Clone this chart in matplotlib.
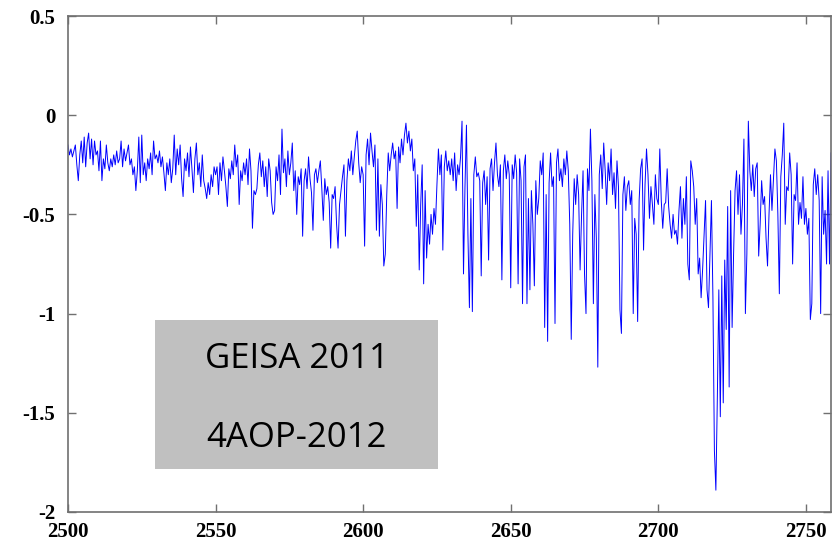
import numpy as np
import matplotlib
matplotlib.use('Agg')
import matplotlib.pyplot as plt
from matplotlib.patches import Rectangle

# residual spectrum, 0.5 cm-1 steps, one list per 10 cm-1
start_wn = 2500.0
step_wn = 0.5
r2500 = [-0.15, -0.20, -0.17, -0.21, -0.18, -0.15, -0.25, -0.33, -0.20, -0.13, -0.24, -0.11, -0.26, -0.14, -0.09, -0.22, -0.12, -0.25, -0.13, -0.20]
r2510 = [-0.18, -0.28, -0.13, -0.33, -0.22, -0.27, -0.15, -0.24, -0.28, -0.22, -0.26, -0.20, -0.25, -0.18, -0.24, -0.22, -0.13, -0.26, -0.17, -0.23]
r2520 = [-0.19, -0.15, -0.25, -0.22, -0.30, -0.26, -0.38, -0.28, -0.11, -0.34, -0.10, -0.30, -0.24, -0.33, -0.22, -0.27, -0.19, -0.30, -0.13, -0.22]
r2530 = [-0.20, -0.24, -0.18, -0.26, -0.21, -0.29, -0.38, -0.24, -0.30, -0.22, -0.34, -0.27, -0.10, -0.30, -0.17, -0.25, -0.15, -0.32, -0.41, -0.22]
r2540 = [-0.28, -0.19, -0.31, -0.16, -0.27, -0.39, -0.22, -0.14, -0.30, -0.24, -0.36, -0.20, -0.33, -0.37, -0.42, -0.34, -0.40, -0.30, -0.36, -0.26]
r2550 = [-0.30, -0.26, -0.40, -0.24, -0.33, -0.21, -0.28, -0.36, -0.46, -0.27, -0.32, -0.23, -0.30, -0.15, -0.26, -0.20, -0.45, -0.28, -0.33, -0.24]
r2560 = [-0.30, -0.22, -0.35, -0.17, -0.28, -0.57, -0.38, -0.40, -0.37, -0.25, -0.19, -0.31, -0.23, -0.36, -0.26, -0.41, -0.22, -0.28, -0.44, -0.50]
r2570 = [-0.48, -0.26, -0.33, -0.20, -0.40, -0.07, -0.29, -0.22, -0.36, -0.18, -0.30, -0.24, -0.14, -0.38, -0.28, -0.50, -0.31, -0.35, -0.27, -0.61]
r2580 = [-0.33, -0.27, -0.37, -0.21, -0.32, -0.39, -0.58, -0.30, -0.27, -0.34, -0.28, -0.23, -0.37, -0.53, -0.32, -0.40, -0.36, -0.44, -0.67, -0.40]
r2590 = [-0.42, -0.36, -0.55, -0.67, -0.45, -0.38, -0.31, -0.25, -0.61, -0.33, -0.22, -0.28, -0.18, -0.30, -0.21, -0.13, -0.08, -0.24, -0.34, -0.26]
r2600 = [-0.30, -0.66, -0.20, -0.12, -0.25, -0.09, -0.18, -0.26, -0.15, -0.58, -0.22, -0.61, -0.35, -0.45, -0.76, -0.70, -0.40, -0.19, -0.28, -0.20]
r2610 = [-0.14, -0.22, -0.18, -0.47, -0.16, -0.24, -0.12, -0.20, -0.10, -0.04, -0.14, -0.08, -0.18, -0.12, -0.28, -0.22, -0.56, -0.30, -0.78, -0.45]
r2620 = [-0.25, -0.85, -0.38, -0.72, -0.55, -0.65, -0.50, -0.60, -0.47, -0.55, -0.35, -0.17, -0.30, -0.20, -0.68, -0.26, -0.18, -0.28, -0.23, -0.30]
r2630 = [-0.22, -0.33, -0.19, -0.38, -0.25, -0.30, -0.21, -0.03, -0.80, -0.36, -0.05, -0.60, -0.97, -0.42, -0.99, -0.30, -0.21, -0.31, -0.29, -0.33]
r2640 = [-0.81, -0.34, -0.28, -0.45, -0.31, -0.73, -0.27, -0.22, -0.38, -0.24, -0.14, -0.30, -0.36, -0.25, -0.83, -0.28, -0.20, -0.32, -0.23, -0.30]
r2650 = [-0.87, -0.25, -0.32, -0.20, -0.29, -0.85, -0.22, -0.33, -0.95, -0.26, -0.20, -0.95, -0.42, -0.88, -0.38, -0.55, -0.86, -0.33, -0.50, -0.42]
r2660 = [-0.23, -0.30, -0.19, -1.07, -0.40, -1.14, -0.34, -0.19, -0.36, -0.31, -1.05, -0.24, -0.17, -0.33, -0.27, -0.36, -0.22, -0.30, -0.18, -0.28]
r2670 = [-0.55, -1.13, -0.60, -0.32, -0.45, -0.30, -0.40, -0.78, -0.50, -0.28, -0.80, -1.00, -0.27, -0.38, -0.07, -0.33, -0.95, -0.40, -0.62, -1.27]
r2680 = [-0.30, -0.20, -0.37, -0.14, -0.28, -0.45, -0.24, -0.33, -0.17, -0.40, -0.29, -0.47, -0.23, -0.36, -0.98, -1.10, -0.40, -0.31, -0.48, -0.36]
r2690 = [-0.33, -0.45, -0.38, -1.00, -0.52, -0.60, -1.04, -0.43, -0.27, -0.22, -0.68, -0.35, -0.17, -0.30, -0.52, -0.36, -0.45, -0.55, -0.30, -0.42]
r2700 = [-0.45, -0.17, -0.43, -0.57, -0.45, -0.44, -0.27, -0.46, -0.55, -0.62, -0.50, -0.60, -0.58, -0.65, -0.48, -0.36, -0.62, -0.42, -0.55, -0.31]
r2710 = [-0.75, -0.83, -0.23, -0.28, -0.36, -0.55, -0.42, -0.80, -0.72, -0.92, -0.78, -0.60, -0.43, -0.88, -0.97, -0.70, -0.43, -0.92, -1.69, -1.89]
r2720 = [-1.42, -0.88, -1.52, -0.81, -1.45, -0.73, -1.08, -0.46, -1.37, -0.38, -1.07, -0.70, -0.38, -0.28, -0.50, -0.30, -0.60, -0.45, -0.12, -1.00]
r2730 = [-0.70, -0.03, -0.28, -0.38, -0.25, -0.41, -0.27, -0.24, -0.71, -0.55, -0.33, -0.45, -0.41, -0.62, -0.76, -0.50, -0.30, -0.48, -0.33, -0.17]
r2740 = [-0.23, -0.50, -0.90, -0.31, -0.20, -0.04, -0.55, -0.36, -0.38, -0.19, -0.30, -0.75, -0.40, -0.43, -0.24, -0.55, -0.44, -0.52, -0.31, -0.55]
r2750 = [-0.47, -0.60, -0.52, -1.03, -0.95, -0.35, -0.27, -0.40, -0.30, -0.43, -1.00, -0.31, -0.60, -0.48, -0.75, -0.28, -0.75, -0.19]

x_ticks = [2500, 2550, 2600, 2650, 2700, 2750]
y_ticks = [0.5, 0, -0.5, -1, -1.5, -2]
y_labels = ['0.5', '0', '-0.5', '-1', '-1.5', '-2']
box_lines = ['GEISA 2011', '4AOP-2012']

residual = np.concatenate([r2500, r2510, r2520, r2530, r2540, r2550, r2560, r2570,
                           r2580, r2590, r2600, r2610, r2620, r2630, r2640, r2650,
                           r2660, r2670, r2680, r2690, r2700, r2710, r2720, r2730,
                           r2740, r2750])
wavenumber = start_wn + step_wn * np.arange(len(residual))

fig = plt.figure(figsize=(8.35, 5.43), dpi=100)
ax = fig.add_axes([0.0814, 0.0571, 0.9138, 0.9134])
ax.plot(wavenumber, residual, color='#0000ff', linewidth=0.7)

ax.set_xlim(2500, 2758.5)
ax.set_ylim(-2, 0.5)

# grey box with the two dataset names
ax.add_patch(Rectangle((2529.5, -1.781), 95.9, 0.747, facecolor='#c0c0c0',
                       edgecolor='none', zorder=3))
ax.text(2577.5, -1.227, box_lines[0], ha='center', va='center', fontsize=25,
        family='Open Sans', zorder=4)
ax.text(2577.5, -1.625, box_lines[1], ha='center', va='center', fontsize=25,
        family='Open Sans', zorder=4)

ax.set_xticks(x_ticks)
ax.set_xticklabels([str(t) for t in x_ticks])
ax.set_yticks(y_ticks)
ax.set_yticklabels(y_labels)
ax.tick_params(direction='in', length=6, width=1, color='#707070',
               top=True, right=True, labelsize=15)
ax.tick_params(axis='x', pad=7)
ax.tick_params(axis='y', pad=9)
for lab in ax.get_xticklabels() + ax.get_yticklabels():
    lab.set_family('Liberation Serif')
    lab.set_fontweight('bold')
for sp in ax.spines.values():
    sp.set_color('#707070')
    sp.set_linewidth(1.2)

fig.savefig('out.png', dpi=100)
